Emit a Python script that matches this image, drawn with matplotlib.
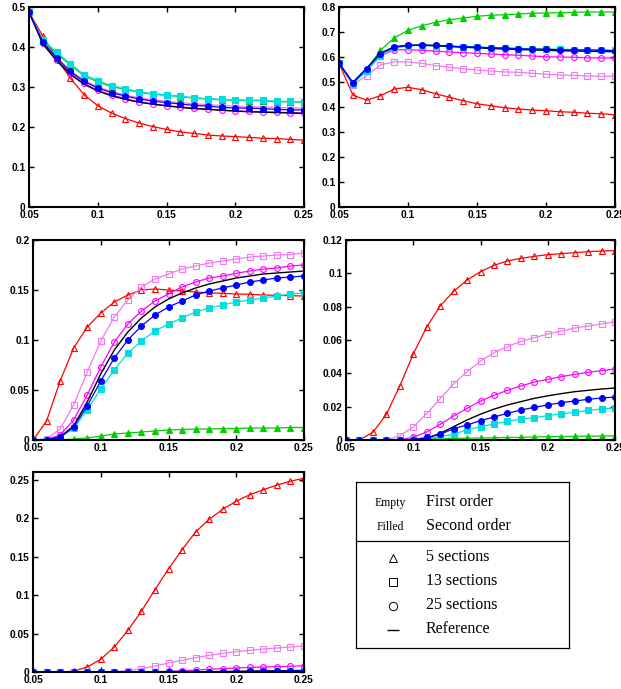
import numpy as np
import matplotlib
matplotlib.use("Agg")
import matplotlib.pyplot as plt
from matplotlib.ticker import FormatStrFormatter

x = np.round(np.arange(0.05, 0.2501, 0.01), 2)

# panel 1
p1_red = [0.487, 0.428, 0.372, 0.322, 0.281, 0.253, 0.235, 0.221, 0.210, 0.201, 0.194, 0.188, 0.184, 0.180, 0.1775, 0.176, 0.174, 0.172, 0.171, 0.169, 0.167]
p1_cyan = [0.487, 0.418, 0.387, 0.358, 0.331, 0.316, 0.303, 0.296, 0.288, 0.283, 0.280, 0.277, 0.273, 0.271, 0.269, 0.268, 0.267, 0.267, 0.264, 0.264, 0.2625]
p1_green = [0.487, 0.416, 0.384, 0.355, 0.328, 0.313, 0.301, 0.294, 0.287, 0.282, 0.279, 0.276, 0.272, 0.270, 0.268, 0.267, 0.266, 0.266, 0.263, 0.263, 0.262]
p1_blue = [0.487, 0.413, 0.373, 0.339, 0.314, 0.2975, 0.286, 0.2775, 0.270, 0.265, 0.261, 0.2575, 0.254, 0.2525, 0.249, 0.2475, 0.247, 0.246, 0.244, 0.243, 0.2425]
p1_violet = [0.487, 0.414, 0.374, 0.341, 0.317, 0.300, 0.289, 0.280, 0.273, 0.268, 0.264, 0.261, 0.258, 0.256, 0.254, 0.252, 0.251, 0.250, 0.249, 0.248, 0.247]
p1_magenta = [0.487, 0.410, 0.368, 0.335, 0.309, 0.292, 0.280, 0.271, 0.263, 0.258, 0.253, 0.250, 0.247, 0.245, 0.242, 0.240, 0.239, 0.238, 0.237, 0.236, 0.235]
p1_ref = [0.487, 0.408, 0.366, 0.332, 0.307, 0.290, 0.278, 0.269, 0.262, 0.257, 0.253, 0.249, 0.246, 0.244, 0.242, 0.240, 0.238, 0.237, 0.236, 0.235, 0.234]

# panel 2
p2_red = [0.575, 0.448, 0.427, 0.445, 0.472, 0.479, 0.469, 0.453, 0.439, 0.425, 0.413, 0.405, 0.397, 0.392, 0.388, 0.385, 0.381, 0.379, 0.375, 0.373, 0.369]
p2_green = [0.575, 0.495, 0.550, 0.627, 0.676, 0.707, 0.725, 0.739, 0.749, 0.756, 0.763, 0.767, 0.769, 0.772, 0.775, 0.776, 0.777, 0.779, 0.780, 0.780, 0.780]
p2_violet = [0.575, 0.489, 0.525, 0.568, 0.581, 0.580, 0.575, 0.565, 0.559, 0.553, 0.548, 0.544, 0.540, 0.539, 0.535, 0.531, 0.528, 0.527, 0.524, 0.523, 0.523]
p2_cyan = [0.575, 0.492, 0.545, 0.605, 0.635, 0.645, 0.646, 0.645, 0.643, 0.641, 0.639, 0.637, 0.636, 0.634, 0.633, 0.632, 0.631, 0.630, 0.629, 0.628, 0.627]
p2_magenta = [0.575, 0.495, 0.545, 0.605, 0.629, 0.629, 0.627, 0.623, 0.620, 0.617, 0.615, 0.612, 0.609, 0.607, 0.604, 0.601, 0.600, 0.599, 0.597, 0.596, 0.596]
p2_blue = [0.575, 0.497, 0.553, 0.613, 0.639, 0.647, 0.648, 0.647, 0.644, 0.641, 0.640, 0.637, 0.636, 0.633, 0.632, 0.631, 0.629, 0.628, 0.628, 0.627, 0.625]
p2_ref = [0.575, 0.498, 0.555, 0.615, 0.641, 0.647, 0.647, 0.645, 0.642, 0.639, 0.637, 0.634, 0.632, 0.630, 0.628, 0.627, 0.625, 0.624, 0.623, 0.622, 0.621]

# panel 3
p3_red = [0.0, 0.019, 0.059, 0.092, 0.113, 0.127, 0.138, 0.145, 0.150, 0.151, 0.150, 0.149, 0.148, 0.147, 0.1467, 0.146, 0.1457, 0.145, 0.1447, 0.1443, 0.144]
p3_violet = [0.0, 0.001, 0.011, 0.035, 0.068, 0.099, 0.123, 0.140, 0.153, 0.161, 0.166, 0.171, 0.174, 0.177, 0.179, 0.181, 0.183, 0.184, 0.185, 0.1853, 0.187]
p3_magenta = [0.0, 0.0005, 0.005, 0.020, 0.045, 0.073, 0.098, 0.116, 0.129, 0.139, 0.146, 0.153, 0.158, 0.162, 0.164, 0.1667, 0.169, 0.171, 0.172, 0.174, 0.175]
p3_blue = [0.0, 0.0002, 0.003, 0.013, 0.034, 0.059, 0.082, 0.100, 0.114, 0.125, 0.133, 0.139, 0.145, 0.149, 0.152, 0.155, 0.158, 0.160, 0.162, 0.163, 0.164]
p3_cyan = [0.0, 0.0002, 0.002, 0.012, 0.030, 0.051, 0.070, 0.087, 0.099, 0.109, 0.116, 0.122, 0.128, 0.132, 0.135, 0.138, 0.140, 0.142, 0.144, 0.146, 0.147]
p3_ref = [0.0, 0.0002, 0.003, 0.014, 0.038, 0.066, 0.090, 0.108, 0.122, 0.133, 0.141, 0.147, 0.152, 0.156, 0.159, 0.162, 0.164, 0.166, 0.167, 0.168, 0.169]
p3_green = [0.0, 0.0, 0.0, 0.001, 0.002, 0.004, 0.006, 0.007, 0.008, 0.009, 0.010, 0.0105, 0.011, 0.011, 0.0115, 0.0115, 0.012, 0.012, 0.012, 0.0125, 0.0125]

# panel 4
p4_red = [0.0, 0.0, 0.0046, 0.0154, 0.0324, 0.0516, 0.0678, 0.0804, 0.0892, 0.0960, 0.1010, 0.1048, 0.1074, 0.1090, 0.1102, 0.1112, 0.1118, 0.1124, 0.1130, 0.1134, 0.1136]
p4_violet = [0.0, 0.0, 0.0, 0.0, 0.0026, 0.0078, 0.0158, 0.0248, 0.0336, 0.0410, 0.0474, 0.0524, 0.0560, 0.0592, 0.0614, 0.0636, 0.0654, 0.0672, 0.0684, 0.0696, 0.0710]
p4_magenta = [0.0, 0.0, 0.0, 0.0, 0.0002, 0.0016, 0.0048, 0.0094, 0.0144, 0.0190, 0.0234, 0.0268, 0.0298, 0.0324, 0.0348, 0.0364, 0.0380, 0.0394, 0.0406, 0.0416, 0.0426]
p4_ref = [0.0, 0.0, 0.0, 0.0, 0.0, 0.0002, 0.0010, 0.0040, 0.0080, 0.0120, 0.0155, 0.0185, 0.0210, 0.0230, 0.0250, 0.0265, 0.0278, 0.0290, 0.0298, 0.0306, 0.0312]
p4_blue = [0.0, 0.0, 0.0, 0.0, 0.0, 0.0002, 0.0016, 0.0034, 0.0068, 0.0090, 0.0116, 0.0138, 0.0160, 0.0180, 0.0196, 0.0210, 0.0224, 0.0234, 0.0244, 0.0252, 0.0258]
p4_cyan = [0.0, 0.0, 0.0, 0.0, 0.0, 0.0001, 0.0008, 0.0020, 0.0035, 0.0060, 0.0080, 0.0096, 0.0112, 0.0126, 0.0134, 0.0146, 0.0158, 0.0166, 0.0178, 0.0186, 0.0192]
p4_green = [0.0, 0.0, 0.0, 0.0, 0.0001, 0.0004, 0.0006, 0.0008, 0.0010, 0.0011, 0.0012, 0.0014, 0.0015, 0.0016, 0.0018, 0.0020, 0.0021, 0.0022, 0.0023, 0.0024, 0.0025]

# panel 5
p5_red = [0.0, 0.0, 0.0, 0.001, 0.0065, 0.0165, 0.0325, 0.054, 0.079, 0.107, 0.134, 0.159, 0.182, 0.1985, 0.2115, 0.222, 0.2305, 0.237, 0.243, 0.248, 0.252]
p5_violet = [0.0, 0.0, 0.0, 0.0, 0.0, 0.0001, 0.0005, 0.0017, 0.0043, 0.0078, 0.0117, 0.0152, 0.0186, 0.0217, 0.0243, 0.0264, 0.0282, 0.0299, 0.0312, 0.0325, 0.0338]
p5_magenta = [0.0, 0.0, 0.0, 0.0, 0.0, 0.0, 0.0, 0.0001, 0.0002, 0.0004, 0.0008, 0.0017, 0.0026, 0.0035, 0.0043, 0.0052, 0.0060, 0.0065, 0.0069, 0.0074, 0.0082]
p5_ref = [0.0] * 12 + [0.0002, 0.0004, 0.0006, 0.0008, 0.0011, 0.0013, 0.0015, 0.0018, 0.0020]
p5_blue = [0.0] * 12 + [0.0001, 0.0002, 0.0004, 0.0006, 0.0008, 0.0010, 0.0011, 0.0013, 0.0015]
p5_cyan = [0.0] * 12 + [0.0001, 0.0002, 0.0003, 0.0004, 0.0005, 0.0006, 0.0007, 0.0008, 0.0009]
p5_green = [0.0] * 21

RED, GREEN, VIOLET, CYAN, MAGENTA, BLUE = "#ff0000", "#00d000", "#f07af0", "#00dede", "#ff00ff", "#0000ff"

W, H = 621, 689
fig = plt.figure(figsize=(W / 100, H / 100), dpi=100)


def rect(l, r, t, b):
    return [l / W, 1 - b / H, (r - l) / W, (b - t) / H]


def panel(r, ylim, yticks, red, green, violet, cyan, magenta, blue, ref):
    ax = fig.add_axes(rect(*r))
    kw = dict(lw=0.9, ms=4.2, mew=0.8)
    ax.plot(x, red, color=RED, marker="^", mfc="none", **kw)
    ax.plot(x, violet, color=VIOLET, marker="s", mfc="none", **kw)
    ax.plot(x, magenta, color=MAGENTA, marker="o", mfc="none", **kw)
    ax.plot(x, green, color=GREEN, marker="^", **kw)
    ax.plot(x, cyan, color=CYAN, marker="s", **kw)
    ax.plot(x, ref, color="black", lw=1.0)
    ax.plot(x, blue, color=BLUE, marker="o", **kw)
    ax.set_xlim(0.05, 0.25)
    ax.set_ylim(*ylim)
    ax.set_xticks([0.05, 0.1, 0.15, 0.2, 0.25])
    ax.set_xticklabels(["0.05", "0.1", "0.15", "0.2", "0.25"])
    ax.set_yticks(yticks)
    ax.yaxis.set_major_formatter(FormatStrFormatter("%g"))
    ax.tick_params(direction="in", top=True, right=True, length=3.5, width=1.0,
                   labelsize=7.4, pad=2.5)
    for lab in ax.get_xticklabels() + ax.get_yticklabels():
        lab.set_fontweight("bold")
        lab.set_family(["Liberation Sans", "DejaVu Sans"])
    for s in ax.spines.values():
        s.set_linewidth(1.5)
    return ax


panel((29, 304, 7, 207), (0, 0.5), [0, 0.1, 0.2, 0.3, 0.4, 0.5],
      p1_red, p1_green, p1_violet, p1_cyan, p1_magenta, p1_blue, p1_ref)
panel((339, 615, 7, 207), (0, 0.8), [0, 0.1, 0.2, 0.3, 0.4, 0.5, 0.6, 0.7, 0.8],
      p2_red, p2_green, p2_violet, p2_cyan, p2_magenta, p2_blue, p2_ref)
panel((33, 304, 240, 440), (0, 0.2), [0, 0.05, 0.1, 0.15, 0.2],
      p3_red, p3_green, p3_violet, p3_cyan, p3_magenta, p3_blue, p3_ref)
panel((346, 615, 240, 440), (0, 0.12), [0, 0.02, 0.04, 0.06, 0.08, 0.1, 0.12],
      p4_red, p4_green, p4_violet, p4_cyan, p4_magenta, p4_blue, p4_ref)
panel((33, 304, 472, 672), (0, 0.26), [0, 0.05, 0.1, 0.15, 0.2, 0.25],
      p5_red, p5_green, p5_violet, p5_cyan, p5_magenta, p5_blue, p5_ref)

# legend box drawn by hand
lg = fig.add_axes(rect(356, 569, 482, 648))
lg.set_xlim(356, 569)
lg.set_ylim(648, 482)
lg.set_xticks([])
lg.set_yticks([])
for s in lg.spines.values():
    s.set_linewidth(0.9)
lg.axhline(541, color="black", lw=0.9)
serif = ["Liberation Serif", "DejaVu Serif"]
lg.text(390, 503, "Empty", family=serif, fontsize=8.5, ha="center", va="center")
lg.text(390, 527, "Filled", family=serif, fontsize=8.5, ha="center", va="center")
lg.text(426, 502, "First order", family=serif, fontsize=11.5, va="center")
lg.text(426, 526, "Second order", family=serif, fontsize=11.5, va="center")
labels = ["5 sections", "13 sections", "25 sections", "Reference"]
marks = ["^", "s", "o", "_"]
rows = [557, 581, 605, 629]
for lab, m, yy in zip(labels, marks, rows):
    lg.plot([393], [yy + 1], marker=m, mfc="none", mec="black", ms=6 if m != "_" else 8,
            mew=0.7 if m != "_" else 1.0, ls="none")
    lg.text(426, yy, lab, family=serif, fontsize=11.5, va="center")

fig.savefig("out.png", dpi=100)
